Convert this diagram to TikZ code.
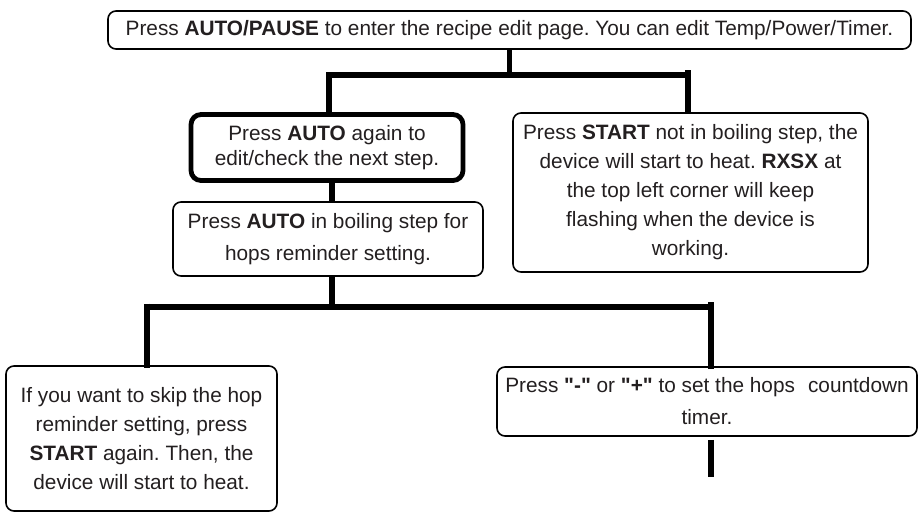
\documentclass[tikz,border=0pt]{standalone}
\usepackage{fontspec}
\setmainfont{Liberation Sans}[Ligatures=TeXOff]
\definecolor{txt}{HTML}{231F20}
\frenchspacing
\begin{document}
\begin{tikzpicture}[x=1pt,y=-1pt,
  box/.style={draw=black, rounded corners=8pt, line width=1.6pt, align=center,
    inner sep=0pt, text=txt, font=\fontsize{20.8}{29}\selectfont},
  thickbox/.style={box, line width=4.8pt, rounded corners=10pt},
  conn/.style={draw=black, line width=5.5pt},
  bar/.style={draw=black, line width=6pt, line cap=rect}]
\useasboundingbox (0,0) rectangle (919,512);

\node[box, minimum width=803pt, minimum height=38pt] (top) at (509.5,30)
  {Press \textbf{AUTO/PAUSE} to enter the recipe edit page. You can edit Temp/Power/Timer.};
\node[thickbox, minimum width=272pt, minimum height=66pt,
  font=\fontsize{20.8}{25}\selectfont] (A) at (327,147.5)
  {Press \textbf{AUTO} again to\\edit/check the next step.};
\node[box, minimum width=355pt, minimum height=159pt] (B) at (690.5,192.5)
  {Press \textbf{START} not in boiling step, the\\device will start to heat. \textbf{RXSX} at\\the top left corner will keep\\flashing when the device is\\working.};
\node[box, minimum width=310pt, minimum height=74pt,
  font=\fontsize{20.8}{31.5}\selectfont] (C) at (328,239)
  {Press \textbf{AUTO} in boiling step for\\hops reminder setting.};
\node[box, minimum width=271pt, minimum height=145pt] (D) at (141.5,438.5)
  {If you want to skip the hop\\reminder setting, press\\\textbf{START} again. Then, the\\device will start to heat.};
\node[box, minimum width=420pt, minimum height=69pt,
  font=\fontsize{20.8}{32}\selectfont] (E) at (707,401.5)
  {Press \textbf{"-"} or \textbf{"+"} to set the hops\hspace{0.35em} countdown\\timer.};

% upper tree
\coordinate (j1) at (509.5,74.5);
\coordinate (b1L) at (329,74.5);
\coordinate (b1R) at (688,74.5);
\draw[conn] (top.south) -- (j1);
\draw[bar] (b1L) -- (b1R);
\draw[conn] ([yshift=2pt]b1L) -- (b1L |- A.north);
\draw[conn] ([yshift=4.5pt]b1R) -- (b1R |- B.north);
\draw[conn] (A.south -| 332,0) -- (C.north -| 332,0);

% lower tree
\coordinate (b2L) at (147,306.5);
\coordinate (b2R) at (711,306.5);
\draw[conn] (C.south -| 332,0) -- (332,306.5);
\draw[bar] (b2L) -- (b2R);
\draw[conn] ([yshift=3pt]b2L) -- ([yshift=-3pt]b2L |- D.north);
\draw[conn] ([yshift=4.5pt]b2R) -- ([yshift=-3pt]b2R |- E.north);
\coordinate (endE) at (711,477);
\draw[conn, shorten <=3pt] (E.south -| endE) -- (endE);
\end{tikzpicture}
\end{document}
